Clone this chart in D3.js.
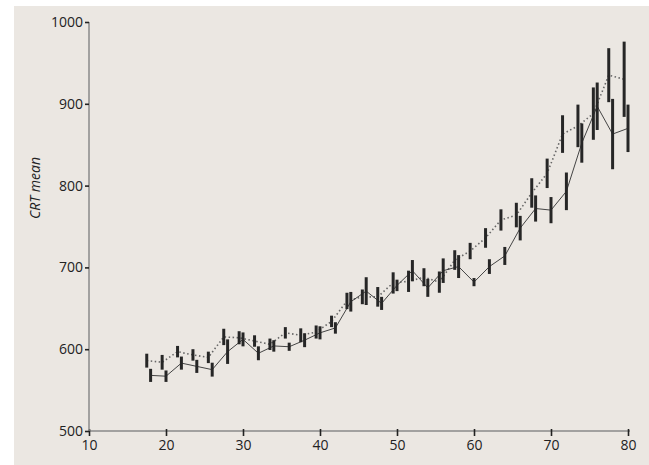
<!DOCTYPE html>
<html><head><meta charset="utf-8">
<script src="https://cdn.jsdelivr.net/npm/d3@7"></script>
<style>
html,body{margin:0;padding:0;background:#fff;}
svg{display:block;}
text{font-family:"Open Sans","Noto Sans",sans-serif;fill:#222;}
</style></head>
<body>
<svg id="chart" width="649" height="465"></svg>
<script>
const ages = [18,20,22,24,26,28,30,32,34,36,38,40,42,44,46,48,50,52,54,56,58,60,62,64,66,68,70,72,74,76,78,80];
const solidMean = [568,567,583,579,575,597,612,595,604,603,611,620,626,658,671,656,678,696,675,696,701,682,701,714,748,772,770,793,852,897,863,870];
const solidErr  = [8,7,8,8,8.5,15,8.5,8.5,7,5,8.5,8,7,12,17,8,7,13,11,15,14,5,9,11,15,16,16,23,24,29,43,29];
const dottedMean = [586,584,597,593,590,615,614,610,606,620,617,621,634,659,664,664,681,683,688,682,709,720,736,758,764,791,815,863,873,888,935,930];
const dottedErr  = [8.5,9,7,7,7,10,8,7,7,7,8.5,8,7,10,9,12,13,13,11,13,12,10,12,13,15,18,18,23,26,32,33,46];
const xTicks = [10,20,30,40,50,60,70,80];
const yTicks = [500,600,700,800,900,1000];
const yLabel = "CRT mean";
const dottedShift = -0.5;

const svg = d3.select("#chart");
svg.append("rect").attr("x",14).attr("y",6).attr("width",649-14).attr("height",465-6).attr("fill","#ebe7e2");

const x = d3.scaleLinear().domain([10,80]).range([89,628]);
const y = d3.scaleLinear().domain([500,1000]).range([431,22]);

// axes
const gx = svg.append("g").attr("transform","translate(0,431)")
  .call(d3.axisBottom(x).tickValues(xTicks).tickFormat(d3.format("d")).tickSize(5).tickPadding(4).tickSizeOuter(0));
gx.select(".domain").attr("stroke","#8a8a8a").attr("stroke-width",1.5).attr("d","M89,0H630");
gx.selectAll(".tick line").attr("stroke","#222").attr("stroke-width",1.6).attr("y1",-2);
gx.selectAll(".tick text").attr("font-size",14).attr("fill","#222");

const gy = svg.append("g").attr("transform","translate(89,0)")
  .call(d3.axisLeft(y).tickValues(yTicks).tickFormat(d3.format("d")).tickSize(4).tickPadding(2).tickSizeOuter(0));
gy.select(".domain").attr("stroke","#8a8a8a").attr("stroke-width",1.5).attr("d","M0,22V431");
gy.selectAll(".tick line").attr("stroke","#222").attr("stroke-width",1.6);
gy.selectAll(".tick text").attr("font-size",14).attr("fill","#222");

svg.append("text").attr("transform","translate(40,188) rotate(-90)")
  .attr("text-anchor","middle").attr("font-size",14).attr("font-style","italic").text(yLabel);

const solidData = ages.map((a,i)=>({a:a,m:solidMean[i],e:solidErr[i]}));
const dottedData = ages.map((a,i)=>({a:a+dottedShift,m:dottedMean[i],e:dottedErr[i]}));

const line = d3.line().x(d=>x(d.a)).y(d=>y(d.m));

svg.append("path").datum(dottedData).attr("d",line).attr("fill","none")
  .attr("stroke","#666").attr("stroke-width",1.6).attr("stroke-dasharray","1.5,2.5");
svg.append("path").datum(solidData).attr("d",line).attr("fill","none")
  .attr("stroke","#444").attr("stroke-width",1);

function bars(data){
  svg.append("g").selectAll("line").data(data).join("line")
    .attr("x1",d=>x(d.a)).attr("x2",d=>x(d.a))
    .attr("y1",d=>y(d.m-d.e)).attr("y2",d=>y(d.m+d.e))
    .attr("stroke","#262626").attr("stroke-width",3);
}
bars(dottedData);
bars(solidData);
</script>
</body></html>
